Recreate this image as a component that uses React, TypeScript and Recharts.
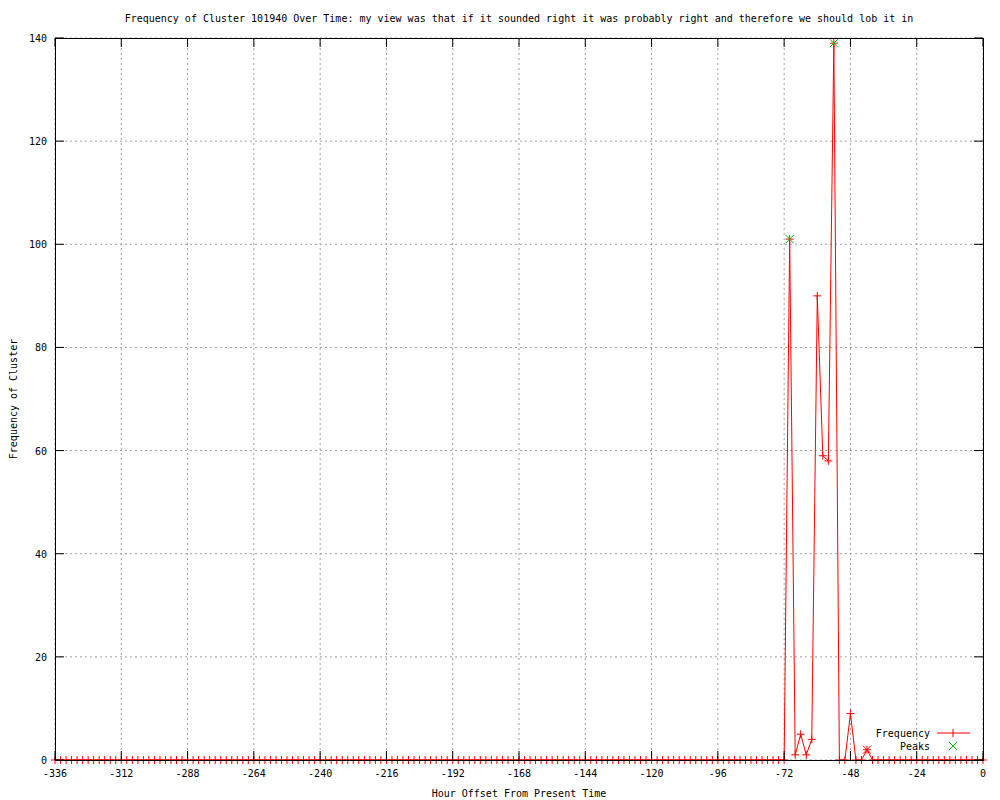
import { CartesianGrid, Cell, ComposedChart, Line, Scatter, XAxis, YAxis } from "recharts";

const hours = [
  -336, -334, -332, -330, -328, -326, -324, -322, -320, -318, -316, -314,
  -312, -310, -308, -306, -304, -302, -300, -298, -296, -294, -292, -290,
  -288, -286, -284, -282, -280, -278, -276, -274, -272, -270, -268, -266,
  -264, -262, -260, -258, -256, -254, -252, -250, -248, -246, -244, -242,
  -240, -238, -236, -234, -232, -230, -228, -226, -224, -222, -220, -218,
  -216, -214, -212, -210, -208, -206, -204, -202, -200, -198, -196, -194,
  -192, -190, -188, -186, -184, -182, -180, -178, -176, -174, -172, -170,
  -168, -166, -164, -162, -160, -158, -156, -154, -152, -150, -148, -146,
  -144, -142, -140, -138, -136, -134, -132, -130, -128, -126, -124, -122,
  -120, -118, -116, -114, -112, -110, -108, -106, -104, -102, -100, -98,
  -96, -94, -92, -90, -88, -86, -84, -82, -80, -78, -76, -74,
  -72, -70, -68, -66, -64, -62, -60, -58, -56, -54, -52, -50,
  -48, -46, -44, -42, -40, -38, -36, -34, -32, -30, -28, -26,
  -24, -22, -20, -18, -16, -14, -12, -10, -8, -6, -4, -2,
  0,
];

const frequency = [
  0, 0, 0, 0, 0, 0, 0, 0, 0, 0, 0, 0,
  0, 0, 0, 0, 0, 0, 0, 0, 0, 0, 0, 0,
  0, 0, 0, 0, 0, 0, 0, 0, 0, 0, 0, 0,
  0, 0, 0, 0, 0, 0, 0, 0, 0, 0, 0, 0,
  0, 0, 0, 0, 0, 0, 0, 0, 0, 0, 0, 0,
  0, 0, 0, 0, 0, 0, 0, 0, 0, 0, 0, 0,
  0, 0, 0, 0, 0, 0, 0, 0, 0, 0, 0, 0,
  0, 0, 0, 0, 0, 0, 0, 0, 0, 0, 0, 0,
  0, 0, 0, 0, 0, 0, 0, 0, 0, 0, 0, 0,
  0, 0, 0, 0, 0, 0, 0, 0, 0, 0, 0, 0,
  0, 0, 0, 0, 0, 0, 0, 0, 0, 0, 0, 0,
  0, 101, 1, 5, 1, 4, 90, 59, 58, 139, 0, 0,
  9, 0, 0, 2, 0, 0, 0, 0, 0, 0, 0, 0,
  0, 0, 0, 0, 0, 0, 0, 0, 0, 0, 0, 0,
  0,
];

const peakHours = [-70, -54, -42];
const peakValues = [101, 139, 2];

const xTicks = [-336, -312, -288, -264, -240, -216, -192, -168, -144, -120, -96, -72, -48, -24, 0];
const yTicks = [0, 20, 40, 60, 80, 100, 120, 140];

const TITLE =
  "Frequency of Cluster 101940 Over Time: my view was that if it sounded right it was probably right and therefore we should lob it in";

const data = hours.map((h, i) => ({ hour: h, value: frequency[i] }));
const peaks = peakHours.map((h, i) => ({ hour: h, value: peakValues[i] }));

const FONT = "'DejaVu Sans Mono', monospace";
const RED = "#ff0000";
const GREEN = "#00c000";
const LEFT = 55;
const RIGHT = 983;
const TOP = 38;
const BOTTOM = 760;
const TICK = 9;

const renderXTick = ({ x, y, payload }: any) => (
  <g key={`xt-${payload.value}`}>
    <line x1={x} x2={x} y1={BOTTOM} y2={BOTTOM - TICK} stroke="#000" />
    <line x1={x} x2={x} y1={TOP} y2={TOP + TICK} stroke="#000" />
    <text x={x} y={BOTTOM + 17} textAnchor="middle" fontSize={10} fontFamily={FONT} fill="#000">
      {payload.value}
    </text>
  </g>
);

const renderYTick = ({ y, payload }: any) => (
  <g key={`yt-${payload.value}`}>
    <line x1={LEFT} x2={LEFT + TICK} y1={y} y2={y} stroke="#000" />
    <line x1={RIGHT - TICK} x2={RIGHT} y1={y} y2={y} stroke="#000" />
    <text x={LEFT - 8} y={y + 4} textAnchor="end" fontSize={10} fontFamily={FONT} fill="#000">
      {payload.value}
    </text>
  </g>
);

function PlusDot({ cx, cy, index }: any) {
  return <path key={index} d={`M${cx - 4},${cy}h8M${cx},${cy - 4}v8`} stroke={RED} fill="none" />;
}

function CrossShape({ cx, cy, fill }: any) {
  return <path d={`M${cx - 4},${cy - 4}l8,8M${cx - 4},${cy + 4}l8,-8`} stroke={fill} fill="none" />;
}

export default function App() {
  return (
    <div style={{ position: "absolute", left: 0, top: 0, width: 1000, height: 800, background: "#fff" }}>
      <ComposedChart
        width={1000}
        height={800}
        data={data}
        margin={{ top: TOP, right: 1000 - RIGHT, bottom: 10, left: 5 }}
      >
        <CartesianGrid stroke="#a0a0a0" strokeDasharray="2 3" />
        <XAxis
          dataKey="hour"
          type="number"
          domain={[-336, 0]}
          ticks={xTicks}
          height={800 - BOTTOM - 10}
          tickSize={0}
          tickLine={false}
          axisLine={false}
          tick={renderXTick}
          interval={0}
        />
        <YAxis
          type="number"
          domain={[0, 140]}
          ticks={yTicks}
          width={LEFT - 5}
          tickSize={0}
          tickLine={false}
          axisLine={false}
          tick={renderYTick}
          interval={0}
        />
        <Line
          dataKey="value"
          type="linear"
          stroke={RED}
          strokeWidth={1}
          dot={PlusDot}
          activeDot={false}
          isAnimationActive={false}
        />
        <Scatter data={peaks} dataKey="value" shape={CrossShape} isAnimationActive={false}>
          {peaks.map((p) => (
            <Cell key={p.hour} fill={p.value > 10 ? GREEN : RED} />
          ))}
        </Scatter>
      </ComposedChart>
      <svg
        width={1000}
        height={800}
        style={{ position: "absolute", left: 0, top: 0, pointerEvents: "none" }}
        fontFamily={FONT}
        fontSize={10}
      >
        <rect x={LEFT + 0.5} y={TOP + 0.5} width={RIGHT - LEFT} height={BOTTOM - TOP} fill="none" stroke="#000" />
        <text x={519} y={22} textAnchor="middle">{TITLE}</text>
        <text x={519} y={797} textAnchor="middle">Hour Offset From Present Time</text>
        <text x={17} y={399} textAnchor="middle" transform="rotate(-90 17 399)">Frequency of Cluster</text>
        <text x={930} y={737} textAnchor="end">Frequency</text>
        <path d="M937,733h33M953,729v8" stroke={RED} fill="none" />
        <text x={930} y={750} textAnchor="end">Peaks</text>
        <path d="M949,742l8,8M949,750l8,-8" stroke={GREEN} fill="none" />
      </svg>
    </div>
  );
}
